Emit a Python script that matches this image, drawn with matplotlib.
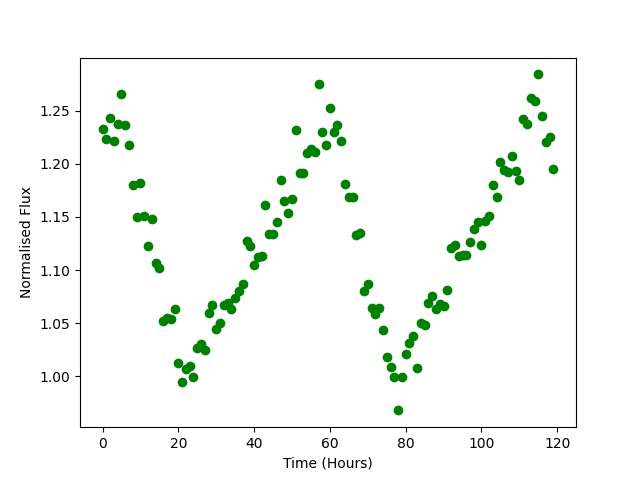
import matplotlib
matplotlib.use("Agg")
import matplotlib.pyplot as plt


hours = list(range(120))
flux = [
    1.233, 1.223, 1.243, 1.221, 1.237, 1.266, 1.236, 1.218, 1.180, 1.150,
    1.182, 1.151, 1.123, 1.148, 1.107, 1.102, 1.052, 1.055, 1.054, 1.063,
    1.013, 0.995, 1.007, 1.010, 0.999, 1.027, 1.030, 1.025, 1.060, 1.067,
    1.045, 1.050, 1.067, 1.069, 1.063, 1.074, 1.080, 1.087, 1.127, 1.123,
    1.105, 1.112, 1.113, 1.161, 1.134, 1.134, 1.145, 1.185, 1.165, 1.154,
    1.167, 1.232, 1.191, 1.191, 1.210, 1.214, 1.211, 1.275, 1.230, 1.218,
    1.252, 1.230, 1.236, 1.221, 1.181, 1.169, 1.169, 1.133, 1.135, 1.080,
    1.087, 1.064, 1.059, 1.064, 1.044, 1.018, 1.009, 0.999, 0.968, 0.999,
    1.021, 1.031, 1.038, 1.008, 1.050, 1.048, 1.069, 1.076, 1.063, 1.068,
    1.066, 1.081, 1.121, 1.124, 1.113, 1.114, 1.114, 1.126, 1.139, 1.145,
    1.124, 1.146, 1.151, 1.180, 1.169, 1.202, 1.194, 1.192, 1.207, 1.193,
    1.185, 1.242, 1.237, 1.262, 1.259, 1.284, 1.245, 1.220, 1.225, 1.195,
]


def main():
    plt.figure(figsize=(6.4, 4.8))
    plt.plot(hours, flux, "o", color="g")
    plt.xlabel("Time (Hours)")
    plt.ylabel("Normalised Flux")
    plt.savefig("out.png", dpi=100)


if __name__ == "__main__":
    main()
